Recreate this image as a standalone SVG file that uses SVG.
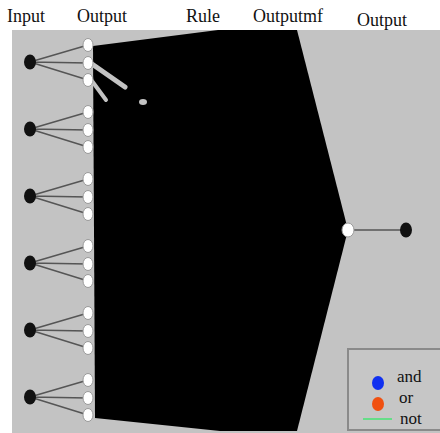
<svg xmlns="http://www.w3.org/2000/svg" width="440" height="433" viewBox="0 0 440 433">
<style>
.hdr{font-family:"Liberation Serif","Times New Roman",serif;font-size:18px;fill:#111}
.lg{font-family:"Liberation Serif","Times New Roman",serif;font-size:17px;fill:#111}
.in{fill:#111}
.mf{fill:#fff;stroke:#9a9a9a;stroke-width:1}
.e{stroke:#555;stroke-width:1.5;fill:none}
.gap{stroke:#c3c3c3;fill:none;stroke-linecap:round}
</style>
<rect x="0" y="0" width="440" height="433" fill="#fff"/>
<rect x="12" y="30" width="428" height="403" fill="#c3c3c3"/>
<g id="headers">
<text class="hdr" x="7" y="22">Input</text>
<text class="hdr" x="77" y="22">Output</text>
<text class="hdr" x="186" y="22">Rule</text>
<text class="hdr" x="253" y="22">Outputmf</text>
<text class="hdr" x="357" y="26">Output</text>
</g>
<g id="connectors">
<path d="M93,46 L218,30 L297,30 L348,230 L297,431 L220,431 L95,418 Z" fill="#000"/>
<line class="gap" x1="92" y1="64" x2="125" y2="87" stroke-width="5"/>
<line class="gap" x1="92" y1="81" x2="106" y2="100" stroke-width="4"/>
<ellipse cx="143" cy="102" rx="4" ry="3" fill="#c3c3c3"/>
<g class="e">
<path d="M30,62 L88,45 M30,62 L88,63 M30,62 L88,80"/>
<path d="M30,129 L88,112 M30,129 L88,130 M30,129 L88,147"/>
<path d="M30,196 L88,179 M30,196 L88,197 M30,196 L88,214"/>
<path d="M30,263 L88,246 M30,263 L88,264 M30,263 L88,281"/>
<path d="M30,330 L88,313 M30,330 L88,331 M30,330 L88,348"/>
<path d="M30,397 L88,380 M30,397 L88,398 M30,397 L88,415"/>
<path d="M348,230 L406,230"/>
</g>
</g>
<g id="input1"><ellipse class="in" cx="30" cy="62" rx="6" ry="7.5"/></g>
<g id="input2"><ellipse class="in" cx="30" cy="129" rx="6" ry="7.5"/></g>
<g id="input3"><ellipse class="in" cx="30" cy="196" rx="6" ry="7.5"/></g>
<g id="input4"><ellipse class="in" cx="30" cy="263" rx="6" ry="7.5"/></g>
<g id="input5"><ellipse class="in" cx="30" cy="330" rx="6" ry="7.5"/></g>
<g id="input6"><ellipse class="in" cx="30" cy="397" rx="6" ry="7.5"/></g>
<g id="inputmf">
<ellipse class="mf" cx="88" cy="45" rx="5" ry="6.5"/><ellipse class="mf" cx="88" cy="63" rx="5" ry="6.5"/><ellipse class="mf" cx="88" cy="80" rx="5" ry="6.5"/>
<ellipse class="mf" cx="88" cy="112" rx="5" ry="6.5"/><ellipse class="mf" cx="88" cy="130" rx="5" ry="6.5"/><ellipse class="mf" cx="88" cy="147" rx="5" ry="6.5"/>
<ellipse class="mf" cx="88" cy="179" rx="5" ry="6.5"/><ellipse class="mf" cx="88" cy="197" rx="5" ry="6.5"/><ellipse class="mf" cx="88" cy="214" rx="5" ry="6.5"/>
<ellipse class="mf" cx="88" cy="246" rx="5" ry="6.5"/><ellipse class="mf" cx="88" cy="264" rx="5" ry="6.5"/><ellipse class="mf" cx="88" cy="281" rx="5" ry="6.5"/>
<ellipse class="mf" cx="88" cy="313" rx="5" ry="6.5"/><ellipse class="mf" cx="88" cy="331" rx="5" ry="6.5"/><ellipse class="mf" cx="88" cy="348" rx="5" ry="6.5"/>
<ellipse class="mf" cx="88" cy="380" rx="5" ry="6.5"/><ellipse class="mf" cx="88" cy="398" rx="5" ry="6.5"/><ellipse class="mf" cx="88" cy="415" rx="5" ry="6.5"/>
</g>
<g id="aggregate"><ellipse class="mf" cx="348" cy="230" rx="6" ry="7"/></g>
<g id="output"><ellipse class="in" cx="406" cy="230" rx="6" ry="7.5"/></g>
<g id="legend">
<rect x="348" y="349" width="100" height="81" fill="#c6c6c6" stroke="#8a8a8a" stroke-width="2"/>
<ellipse cx="378" cy="383" rx="6" ry="7" fill="#1030f0"/>
<ellipse cx="378" cy="404" rx="6" ry="7" fill="#f05010"/>
<line x1="363" y1="419" x2="392" y2="419" stroke="#66dd88" stroke-width="2"/>
<text class="lg" x="397" y="382">and</text>
<text class="lg" x="399" y="403">or</text>
<text class="lg" x="400" y="424">not</text>
</g>
</svg>
